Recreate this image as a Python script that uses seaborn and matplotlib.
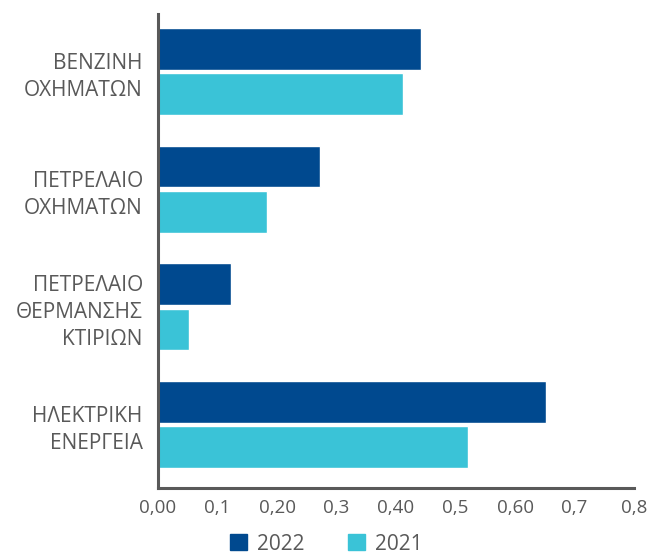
import pandas as pd
import matplotlib.pyplot as plt
import seaborn as sns
from matplotlib.patches import Patch

categories = ['ΒΕΝΖΙΝΗ\nΟΧΗΜΑΤΩΝ', 'ΠΕΤΡΕΛΑΙΟ\nΟΧΗΜΑΤΩΝ', 'ΠΕΤΡΕΛΑΙΟ\nΘΕΡΜΑΝΣΗΣ\nΚΤΙΡΙΩΝ', 'ΗΛΕΚΤΡΙΚΗ\nΕΝΕΡΓΕΙΑ']
values_2022 = [0.442, 0.272, 0.123, 0.652]
values_2021 = [0.412, 0.183, 0.052, 0.521]
xticks = [0, 0.1, 0.2, 0.3, 0.4, 0.5, 0.6, 0.7, 0.8]
xtick_labels = ['0,00', '0,1', '0,20', '0,3', '0,40', '0,5', '0,60', '0,7', '0,8']

df = pd.DataFrame({
    'cat': categories * 2,
    'val': values_2022 + values_2021,
    'year': ['2022'] * 4 + ['2021'] * 4,
})

sns.set_style('white')
plt.rcParams['font.family'] = ['Open Sans', 'DejaVu Sans']
grey = '#595959'
c22 = '#00498F'
c21 = '#3AC3D7'

fig = plt.figure(figsize=(6.49, 5.54), dpi=100)
ax = fig.add_axes([0.2435, 0.119, 0.7335, 0.856])

sns.barplot(data=df, x='val', y='cat', hue='year', hue_order=['2022', '2021'],
            palette={'2022': c22, '2021': c21}, saturation=1, orient='h',
            width=0.77, gap=0.08, ax=ax, legend=False)

ax.set_xlim(0, 0.8)
ax.set_ylim(3.54, -0.49)
ax.set_xticks(xticks)
ax.set_xticklabels(xtick_labels)
ax.set_xlabel('')
ax.set_ylabel('')

for s in ['top', 'right']:
    ax.spines[s].set_visible(False)
for s in ['left', 'bottom']:
    ax.spines[s].set_color(grey)
    ax.spines[s].set_linewidth(2.2)

ax.tick_params(axis='x', direction='in', length=7.5, width=1.8, color=grey,
               labelcolor=grey, labelsize=13.5, pad=8)
ax.tick_params(axis='y', direction='in', length=8.5, width=1.8, color=grey,
               labelcolor=grey, labelsize=15, pad=11)
for lbl in ax.get_yticklabels():
    lbl.set_linespacing(1.38)

handles = [Patch(color=c22, label='2022'), Patch(color=c21, label='2021')]
fig.legend(handles=handles, loc='center', bbox_to_anchor=(0.503, 0.018), ncol=2,
           frameon=False, handlelength=0.8, handleheight=0.8, columnspacing=2.1,
           handletextpad=0.5, fontsize=15, labelcolor=grey)

fig.savefig('out.png', dpi=100)
